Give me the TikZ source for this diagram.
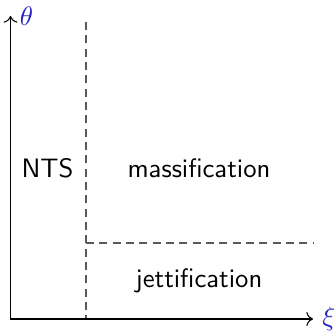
\documentclass[tikz,border=0pt]{standalone}
\usetikzlibrary{arrows.meta}
\definecolor{axisblue}{RGB}{35,35,190}
\begin{document}
\begin{tikzpicture}[x=0.375pt,y=-0.375pt,
  axis/.style={draw=black,line width=0.4pt,->},
  divider/.style={draw=black!65,line width=0.45pt,dash pattern=on 3pt off 2pt},
  region/.style={font=\sffamily,anchor=base,inner sep=0pt},
  axislabel/.style={text=axisblue,inner sep=3.3pt,anchor=west}]
\useasboundingbox (0,0) rectangle (335,333);
\coordinate (O) at (10.5,319);
\coordinate (ytip) at (10.5,16);
\coordinate (xtip) at (313,319);
\coordinate (vtop) at (86,22);
\coordinate (vbot) at (86,319);
\coordinate (hleft) at (86,243);
\coordinate (hright) at (313,243);
\draw[divider] (vtop) -- (vbot);
\draw[divider] (hleft) -- (hright);
\draw[axis] (O) -- (ytip);
\draw[axis] (O) -- (xtip);
\node[axislabel] (theta) at (ytip) {$\theta$};
\node[axislabel] (xi) at (xtip) {$\xi$};
\node[region] (nts) at (47.5,177) {NTS};
\node[region] (mass) at (199,177) {massification};
\node[region] (jett) at (199,288) {jettification};
\end{tikzpicture}
\end{document}
